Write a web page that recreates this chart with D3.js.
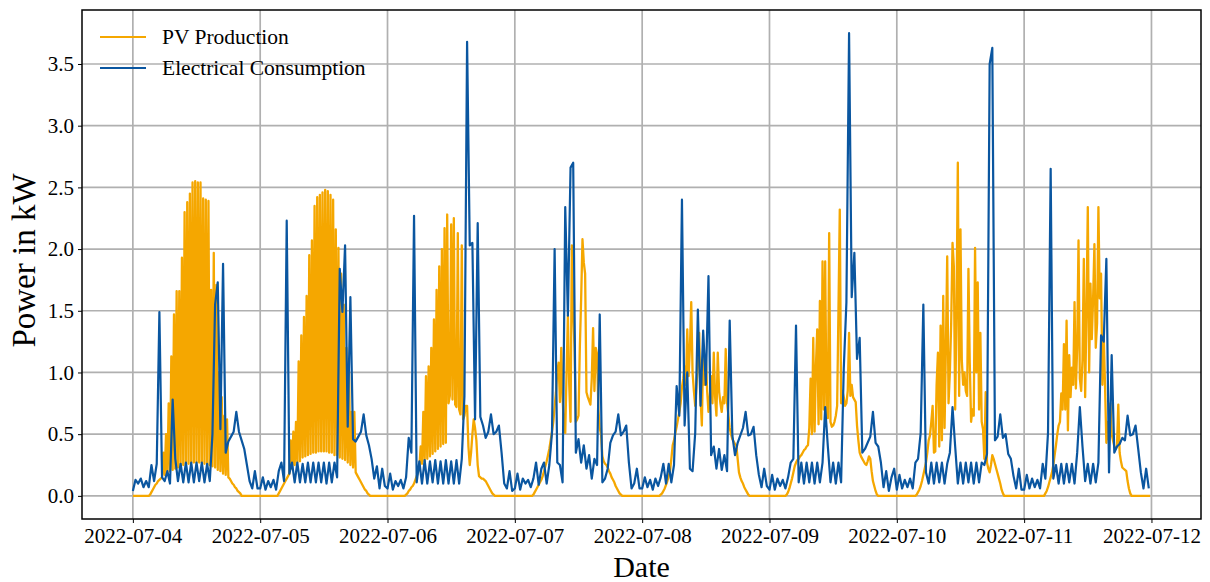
<!DOCTYPE html>
<html>
<head>
<meta charset="utf-8">
<script src="https://cdn.jsdelivr.net/npm/d3@7"></script>
<style>
  body { margin: 0; background: #fff; }
  text { font-family: "Liberation Serif", "Times New Roman", serif; fill: #000; }
</style>
</head>
<body>
<script>
// days shown on the x axis (one tick per day)
var days = ["2022-07-04", "2022-07-05", "2022-07-06", "2022-07-07",
            "2022-07-08", "2022-07-09", "2022-07-10", "2022-07-11", "2022-07-12"];
var yTicks = [0, 0.5, 1.0, 1.5, 2.0, 2.5, 3.0, 3.5];
var seriesNames = ["PV Production", "Electrical Consumption"];

// PV production in kW, every 15 min from 03:00 to 21:00 (zero at night)
var pvFirstHour = 3;
var pv0704 = [0,0.01,0.03,0.05,0.07,0.09,0.10,0.12,0.13,0.14,
  0.15,0.35,0.17,0.50,0.18,0.75,0.20,1.13,0.21,1.47,
  0.22,1.66,0.23,1.66,0.24,1.93,0.25,2.30,0.26,2.38,
  0.26,2.45,0.27,2.54,0.27,2.55,0.27,2.54,0.27,2.54,
  0.27,2.41,0.26,2.40,0.25,2.39,0.25,1.67,0.24,1.97,
  0.23,1.71,0.21,1.00,0.20,0.80,0.18,0.65,0.17,0.62,
  0.15,0.14,0.12,0.10,0.09,0.07,0.06,0.04,0.03,0.02,
  0,0,0];
var pv0705 = [0,0,0.02,0.04,0.06,0.08,0.10,0.12,0.14,0.16,
  0.18,0.45,0.22,0.52,0.25,0.60,0.27,1.09,0.28,1.30,
  0.31,1.45,0.32,1.62,0.33,1.95,0.34,2.07,0.35,2.35,
  0.35,2.42,0.36,2.44,0.36,2.46,0.36,2.48,0.36,2.47,
  0.35,2.44,0.35,2.40,0.33,2.16,0.33,2.01,0.31,1.80,
  0.30,1.55,0.29,1.20,0.27,1.00,0.25,0.68,0.23,0.68,
  0.19,0.17,0.15,0.13,0.11,0.09,0.07,0.05,0.04,0.02,
  0.01,0,0];
var pv0706 = [0,0,0.01,0.02,0.04,0.05,0.07,0.08,0.10,0.13,
  0.16,0.19,0.23,0.40,0.26,0.68,0.28,0.97,0.30,1.05,
  0.32,1.20,0.34,1.43,0.36,1.67,0.38,1.86,0.40,2.00,
  0.42,2.17,0.43,2.28,0.75,0.81,2.20,0.78,2.25,0.74,
  0.72,2.13,0.70,0.66,2.03,0.62,0.65,0.73,0.73,0.40,
  0.25,0.35,0.50,0.62,0.55,0.45,0.25,0.16,0.15,0.14,
  0.14,0.13,0.12,0.10,0.08,0.06,0.04,0.02,0.01,0,
  0,0,0];
var pv0707 = [0,0,0.01,0.03,0.05,0.07,0.09,0.11,0.13,0.16,
  0.20,0.24,0.28,0.33,0.38,0.45,0.52,0.60,0.72,0.84,
  1.00,1.08,0.76,1.20,0.80,0.55,0.51,1.00,1.46,0.90,
  0.60,2.03,1.50,1.20,0.60,0.62,0.65,1.20,1.60,2.08,
  1.89,1.80,0.84,0.80,0.77,0.74,0.95,1.36,0.85,1.20,
  1.15,0.70,0.55,0.50,0.32,0.28,0.26,0.25,0.23,0.20,
  0.18,0.15,0.13,0.11,0.08,0.06,0.04,0.02,0.01,0,
  0,0,0];
var pv0708 = [0,0,0.01,0.02,0.04,0.06,0.09,0.12,0.16,0.20,
  0.30,0.41,0.45,0.51,0.56,0.62,0.68,0.75,0.88,0.95,
  1.05,0.90,1.35,0.97,1.20,1.57,1.00,0.85,0.73,0.90,
  1.10,1.32,0.80,0.57,1.16,0.90,1.13,0.85,0.68,0.80,
  0.97,0.75,1.16,0.80,0.65,1.16,0.85,0.75,0.68,0.80,
  0.75,1.19,0.76,0.65,0.55,0.50,0.46,0.44,0.42,0.41,
  0.30,0.19,0.15,0.12,0.10,0.07,0.05,0.03,0.01,0,
  0,0,0];
var pv0709 = [0,0.01,0.03,0.06,0.10,0.14,0.19,0.24,0.27,0.29,
  0.30,0.32,0.33,0.35,0.37,0.38,0.40,0.41,0.55,0.95,
  0.50,1.28,0.52,1.05,1.35,0.58,1.58,0.62,1.90,0.70,
  1.90,0.68,0.63,2.13,0.60,0.56,0.57,0.60,0.65,0.73,
  1.50,2.32,0.75,0.85,0.80,0.73,0.75,0.85,1.32,0.81,
  0.90,0.80,0.78,0.76,0.57,0.45,0.35,0.32,0.30,0.28,
  0.26,0.25,0.28,0.32,0.30,0.20,0.12,0.08,0.04,0.01,
  0,0,0];
var pv0710 = [0,0,0,0.01,0.03,0.05,0.08,0.12,0.17,0.22,
  0.27,0.35,0.45,0.49,0.60,0.73,0.35,0.36,0.90,1.16,
  0.40,1.38,0.45,1.62,0.55,1.20,1.94,0.75,1.00,1.40,
  2.05,1.86,0.70,1.50,2.70,0.81,2.16,1.10,0.90,1.00,
  0.85,0.81,1.84,1.08,0.60,0.70,0.65,2.01,1.00,1.73,
  0.70,1.32,0.60,0.54,0.30,0.84,0.27,0.22,0.19,0.25,
  0.33,0.30,0.26,0.22,0.18,0.14,0.10,0.05,0.02,0,
  0,0,0];
var pv0711 = [0,0,0,0,0.02,0.04,0.07,0.11,0.15,0.19,
  0.25,0.33,0.41,0.50,0.57,0.60,0.83,0.70,1.23,0.70,
  1.42,0.53,1.14,0.80,1.04,0.90,1.57,0.87,1.20,2.07,
  0.95,0.85,1.10,1.92,0.80,1.50,2.34,1.00,1.72,1.27,
  1.60,2.04,1.20,1.40,2.34,1.60,1.80,0.90,1.30,0.89,
  0.43,0.60,0.45,0.75,0.50,0.45,0.40,0.38,0.40,0.74,
  0.35,0.28,0.23,0.22,0.21,0.20,0.12,0.06,0.02,0,
  0,0,0];

// electrical consumption in kW, every 30 min from 00:00
var load0704 = [0.04,0.13,0.10,0.14,0.07,0.12,0.07,0.25,0.12,0.26,
  1.49,0.15,0.12,0.20,0.10,0.78,0.30,0.12,0.26,0.11,
  0.27,0.11,0.27,0.11,0.27,0.12,0.27,0.11,0.26,0.12,
  0.50,1.55,1.73,0.54,1.88,0.35,0.44,0.48,0.52,0.68,
  0.52,0.45,0.38,0.25,0.12,0.06,0.20,0.06];
var load0705 = [0.06,0.15,0.05,0.12,0.07,0.13,0.05,0.20,0.27,0.12,
  2.23,0.18,0.27,0.11,0.27,0.11,0.26,0.11,0.27,0.11,
  0.27,0.11,0.27,0.11,0.27,0.10,0.27,0.11,0.27,0.15,
  1.84,1.49,2.03,0.56,1.61,0.46,0.44,0.48,0.52,0.66,
  0.49,0.41,0.30,0.14,0.24,0.06,0.22,0.08];
var load0706 = [0.06,0.18,0.05,0.12,0.08,0.13,0.06,0.15,0.47,0.35,
  2.27,0.11,0.28,0.10,0.29,0.10,0.28,0.11,0.29,0.10,
  0.28,0.10,0.29,0.10,0.28,0.10,0.29,0.10,0.30,0.81,
  3.68,2.03,2.05,0.62,2.21,0.64,0.57,0.47,0.52,0.66,
  0.50,0.52,0.57,0.35,0.10,0.06,0.20,0.04];
var load0707 = [0.06,0.18,0.05,0.14,0.10,0.13,0.07,0.14,0.27,0.09,
  0.22,0.27,0.10,0.25,0.51,2.00,0.27,0.25,0.11,2.34,
  1.46,2.66,2.70,0.35,0.46,0.27,0.41,0.22,0.33,0.14,
  0.30,0.25,1.47,0.11,0.14,0.22,0.43,0.49,0.52,0.66,
  0.49,0.52,0.57,0.27,0.06,0.10,0.22,0.06];
var load0708 = [0.06,0.15,0.07,0.13,0.05,0.14,0.08,0.15,0.26,0.10,
  0.26,0.11,0.25,0.89,0.65,2.40,0.57,1.00,0.22,0.20,
  0.51,1.51,0.73,1.34,0.90,1.78,0.33,0.40,0.22,0.38,
  0.21,0.33,0.20,1.42,0.49,0.33,0.43,0.49,0.55,0.68,
  0.49,0.50,0.56,0.33,0.17,0.07,0.22,0.08];
var load0709 = [0.05,0.17,0.05,0.14,0.08,0.13,0.06,0.15,0.27,0.30,
  1.38,0.11,0.27,0.10,0.27,0.11,0.27,0.10,0.27,0.11,
  0.27,0.72,0.40,0.11,0.27,0.10,0.27,0.11,1.03,1.57,
  3.75,1.61,1.97,1.11,1.28,0.35,0.38,0.43,0.48,0.68,
  0.43,0.40,0.27,0.07,0.20,0.04,0.15,0.22];
var load0710 = [0.05,0.17,0.06,0.13,0.07,0.14,0.06,0.27,0.30,0.51,
  1.55,0.19,0.10,0.27,0.10,0.27,0.11,0.27,0.10,0.26,
  0.35,0.72,0.40,0.10,0.27,0.10,0.27,0.11,0.27,0.10,
  0.27,0.11,0.27,0.25,0.34,3.50,3.63,0.45,0.48,0.66,
  0.47,0.50,0.34,0.30,0.16,0.06,0.22,0.05];
var load0711 = [0.05,0.17,0.06,0.14,0.07,0.13,0.06,0.26,0.14,0.51,
  2.65,0.14,0.25,0.10,0.26,0.10,0.26,0.11,0.26,0.10,
  0.35,0.72,0.40,0.12,0.26,0.10,0.26,0.11,0.27,1.30,
  1.25,1.92,0.19,1.14,0.35,0.40,0.42,0.47,0.45,0.65,
  0.49,0.50,0.57,0.38,0.19,0.06,0.22,0.06];

var pvByDay = [pv0704, pv0705, pv0706, pv0707, pv0708, pv0709, pv0710, pv0711];
var loadByDay = [load0704, load0705, load0706, load0707, load0708, load0709, load0710, load0711];

var margin = { top: 10, right: 9, bottom: 63, left: 82 };
var width = 1210 - margin.left - margin.right;
var height = 582 - margin.top - margin.bottom;

var pvColor = "#f5a700";
var loadColor = "#0a56a0";

var parseDay = d3.utcParse("%Y-%m-%d");

// build time series
var pvSeries = [];
var loadSeries = [];
pvByDay.forEach(function(vals, d) {
    var t0 = parseDay(days[d]);
    for (var k = 0; k < 96; k++) {
        var j = k - pvFirstHour * 4;
        var v = (j >= 0 && j < vals.length) ? vals[j] : 0;
        pvSeries.push({ t: d3.utcMinute.offset(t0, 15 * k), v: v });
    }
    loadByDay[d].forEach(function(v, i) {
        loadSeries.push({ t: d3.utcMinute.offset(t0, 30 * i), v: v });
    });
});

var svg = d3.select("body")
    .append("svg")
    .attr("width", width + margin.left + margin.right)
    .attr("height", height + margin.top + margin.bottom)
    .append("g")
    .attr("transform", "translate(" + margin.left + "," + margin.top + ")");

// Escalas (5% padding like matplotlib)
var tExt = d3.extent(pvSeries.concat(loadSeries), d => d.t);
var tPad = (tExt[1] - tExt[0]) * 0.05;
var xScale = d3.scaleUtc()
    .domain([new Date(+tExt[0] - tPad), new Date(+tExt[1] + tPad)])
    .range([0, width]);

var vMax = d3.max(pvSeries.concat(loadSeries), d => d.v);
var vPad = vMax * 0.05;
var yScale = d3.scaleLinear()
    .domain([-vPad, vMax + vPad])
    .range([height, 0]);

var dayDates = days.map(parseDay);

// grid
svg.append("g")
    .selectAll("line")
    .data(dayDates)
    .enter()
    .append("line")
    .attr("x1", d => xScale(d))
    .attr("x2", d => xScale(d))
    .attr("y1", 0)
    .attr("y2", height)
    .attr("stroke", "#b0b0b0")
    .attr("stroke-width", 1.7);

svg.append("g")
    .selectAll("line")
    .data(yTicks)
    .enter()
    .append("line")
    .attr("x1", 0)
    .attr("x2", width)
    .attr("y1", d => yScale(d))
    .attr("y2", d => yScale(d))
    .attr("stroke", "#b0b0b0")
    .attr("stroke-width", 1.7);

// lines
var line = d3.line()
    .x(d => xScale(d.t))
    .y(d => yScale(d.v));

svg.append("path")
    .datum(pvSeries)
    .attr("d", line)
    .attr("fill", "none")
    .attr("stroke", pvColor)
    .attr("stroke-width", 2.3)
    .attr("stroke-linejoin", "round");

svg.append("path")
    .datum(loadSeries)
    .attr("d", line)
    .attr("fill", "none")
    .attr("stroke", loadColor)
    .attr("stroke-width", 2.2)
    .attr("stroke-linejoin", "round");

// Eixo X
var xAxis = svg.append("g")
    .attr("transform", "translate(0," + height + ")")
    .call(d3.axisBottom(xScale)
        .tickValues(dayDates)
        .tickFormat(d3.utcFormat("%Y-%m-%d"))
        .tickSize(4)
        .tickPadding(5));
xAxis.select(".domain").remove();
xAxis.selectAll("text").style("font-size", "21px");

// Eixo Y
var yAxis = svg.append("g")
    .call(d3.axisLeft(yScale)
        .tickValues(yTicks)
        .tickFormat(d3.format(".1f"))
        .tickSize(4)
        .tickPadding(4));
yAxis.select(".domain").remove();
yAxis.selectAll("text").style("font-size", "21px");

// frame
svg.append("rect")
    .attr("width", width)
    .attr("height", height)
    .attr("fill", "none")
    .attr("stroke", "#000")
    .attr("stroke-width", 1.5);

// legend
var legend = svg.append("g")
    .attr("transform", "translate(18,27)");
legend.selectAll("line")
    .data(seriesNames)
    .enter()
    .append("line")
    .attr("x1", 0)
    .attr("x2", 46)
    .attr("y1", (d, i) => i * 31)
    .attr("y2", (d, i) => i * 31)
    .attr("stroke", (d, i) => i === 0 ? pvColor : loadColor)
    .attr("stroke-width", 2.2);
legend.selectAll("text")
    .data(seriesNames)
    .enter()
    .append("text")
    .text(d => d)
    .attr("x", 62)
    .attr("y", (d, i) => i * 31)
    .attr("dy", "0.33em")
    .style("font-size", "21.5px");

// rótulo de eixo y
svg.append("text")
    .text("Power in kW")
    .attr("transform", "rotate(-90)")
    .attr("x", -height / 2 + 4)
    .attr("y", -margin.left + 35)
    .attr("text-anchor", "middle")
    .style("font-size", "33px");

// rótulo de eixo x
svg.append("text")
    .text("Date")
    .attr("x", width / 2)
    .attr("y", height + margin.bottom - 5)
    .attr("text-anchor", "middle")
    .style("font-size", "30px");
</script>
</body>
</html>
